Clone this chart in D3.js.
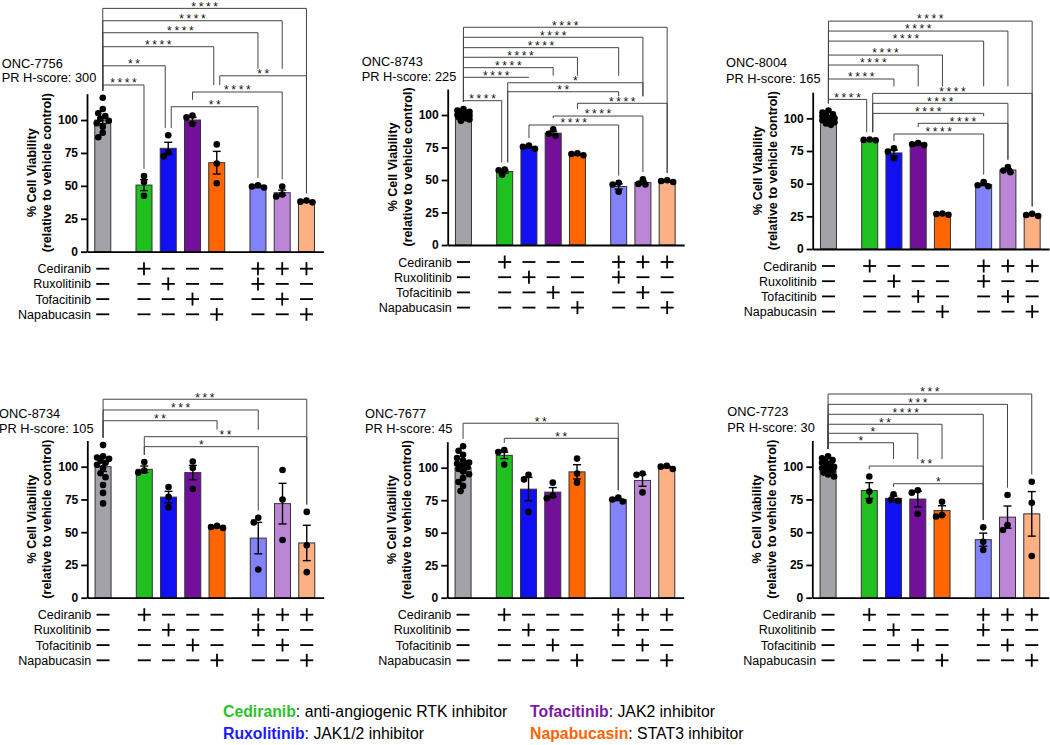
<!DOCTYPE html>
<html><head><meta charset="utf-8">
<script src="https://cdn.jsdelivr.net/npm/d3@7"></script>
<style>
body{margin:0;background:#fff}
svg{font-family:"Liberation Sans",Arial,Helvetica,sans-serif}
</style></head>
<body>
<svg id="c" width="1050" height="745"></svg>
<script>
// ---------------- DATA ----------------
const treatments = ["Cediranib", "Ruxolitinib", "Tofacitinib", "Napabucasin"];
// which treatment is present (+) for each of the 8 columns
const combos = [
  [0,0,0,0],[1,0,0,0],[0,1,0,0],[0,0,1,0],[0,0,0,1],[1,1,0,0],[1,0,1,0],[1,0,0,1]
];
const barColors = ["#a2a2a8","#20c020","#1010f2","#72109a","#ff6600","#8282fa","#bc86d6","#fdb083"];
const panelNames = ["ONC-7756","ONC-8743","ONC-8004","ONC-8734","ONC-7677","ONC-7723"];
const hScores = [300, 225, 165, 105, 45, 30];
const yTicks = [0, 25, 50, 75, 100];

// mean % viability per column
const means = [
  [100, 50.6, 78.5, 100, 67.6, 49.5, 44.8, 38],
  [100, 56.5, 75, 86, 69.8, 45, 48, 49],
  [100, 83.4, 73.5, 80.3, 26.7, 49.3, 60.5, 26],
  [100, 98, 76.8, 95.5, 53.8, 45.5, 71.8, 41.8],
  [100, 109.5, 83.5, 81.2, 96.8, 75.5, 90.2, 100.5],
  [100, 81.8, 75.8, 75.3, 66.5, 44.3, 61.5, 64]
];
// SEM per column
const sems = [
  [2.8, 4.2, 4.6, 2, 8.6, 0.8, 2, 0.5],
  [1, 1.2, 0.6, 1.5, 0.5, 2, 1.2, 0.4],
  [1, 0.3, 2.2, 0.5, 0.3, 0.8, 1, 0.4],
  [3.6, 2.5, 4.4, 5.5, 0.4, 12, 15.5, 13.5],
  [2.5, 2.5, 9, 3.5, 5.5, 0.8, 4.5, 0.6],
  [1, 6, 1.8, 6, 3.7, 5, 8.5, 17]
];
// individual replicate points
const dots = [
  [[116.9,108.4,105.1,103,101,99.5,97.5,94.9,90.4,86.9],[57.5,53,42.5],[88.5,75.5,72.5],[103.5,102,97],[81.5,67,52],[50.5,49.5,48.8],[49.5,43.5,42],[38.8,38,37.5]],
  [[104.5,103.5,102.5,101.5,101,100,99.5,99,98,97.5,96.5,95.5],[58,57.5,54],[76.5,75.5,74],[89,85.5,84],[70.5,70,69],[47.8,46.5,41],[50.5,47,46.5],[49.8,49.2,48.5]],
  [[106,104.5,103,102,101.5,100.5,100,99.5,98.5,98,97,96,95],[83.8,83.5,83.2],[77,74.5,69.5],[81,80.2,79.5],[27.2,26.8,26.2],[51.3,48.8,48],[62.8,60,58.8],[27,26,25.3]],
  [[116.5,108,107,106,104.5,103,101.5,99,95,92,86,80,72],[103.5,97,95.5],[84.5,77,69],[104,99,83],[54.8,54,53.3],[61,57.5,21.5],[97.5,75,44],[65.5,40,19.5]],
  [[116.5,113,110,107.5,105.5,104,103,102,100.5,99,97,95,92,89,86,82],[113.5,112,102.5],[94.5,91,66],[88.5,78.5,76.5],[107,95.5,88.5],[77,75.5,74],[95.5,94.5,81],[101.5,100.8,99]],
  [[108,106.5,105,104,103,102,101,100,99,98,97,95.5,94,92.5],[92.5,81,74],[79,74.8,74],[82,80.2,64],[73.3,63,62],[53.7,42.7,36.4],[78.4,55.5,51.7],[88.5,72.5,31.8]]
];
// significance brackets: [from column, to column, stars, height in % units]
const brackets = [
  [[0,7,"****",184.8],[0,6,"****",175.4],[0,5,"****",166.3],[0,4,"****",155.7],[0,2,"**",141.2],[0,1,"****",126.6],[4,7,"**",133.6],[3,6,"****",121.3],[2,5,"**",110.1]],
  [[0,7,"****",167.5],[0,6,"****",159.8],[0,5,"****",151.8],[0,4,"****",144.4],[0,3,"****",136.4],[0,2,"****",129],[0,1,"****",111],[1,6,"*",124.8],[1,5,"**",117.9],[4,7,"****",109],[3,6,"****",99.2],[2,5,"****",92.3]],
  [[0,7,"****",174.4],[0,6,"****",166.8],[0,5,"****",159.1],[0,4,"****",148.4],[0,3,"****",140.8],[0,2,"****",130.1],[0,1,"****",114.5],[1,7,"****",119.1],[1,6,"****",111.5],[1,5,"****",103.8],[3,6,"****",96.2],[2,5,"****",88]],
  [[0,7,"***",151.5],[0,5,"***",143.3],[0,4,"**",135.1],[1,7,"**",122.9],[1,5,"*",115.3]],
  [[0,5,"**",134.2],[1,5,"**",122.6]],
  [[0,7,"***",155.5],[0,6,"***",147.6],[0,5,"****",140],[0,4,"**",132.4],[0,3,"*",125.5],[0,2,"*",118.3],[1,5,"**",100.5],[2,5,"*",87]]
];
const legendItems = [
  {name:"Cediranib", desc:": anti-angiogenic RTK inhibitor", color:"#2cc42c"},
  {name:"Ruxolitinib", desc:": JAK1/2 inhibitor", color:"#1a1aff"},
  {name:"Tofacitinib", desc:": JAK2 inhibitor", color:"#7a1aa2"},
  {name:"Napabucasin", desc:": STAT3 inhibitor", color:"#ff6400"}
];

// ---------------- LAYOUT ----------------
const layout = [
  {ax:87,    y0:251.7, h:158,   tx:1.7,   ty:67.9,  ty2:82.2},
  {ax:447.7, y0:245,   h:156,   tx:361.7, ty:66.3,  ty2:80.8},
  {ax:812.7, y0:249,   h:156.8, tx:726,   ty:66.5,  ty2:82.5},
  {ax:87.3,  y0:597.7, h:157.2, tx:-1,    ty:417.9, ty2:432.9},
  {ax:447.3, y0:597.7, h:156,   tx:365,   ty:417.9, ty2:432.9},
  {ax:812.3, y0:597.7, h:157.2, tx:727.3, ty:416.3, ty2:431.5}
];
const slot = 24.25, barW = 16, r = 3.3;
const colPos = i => i + (i === 0 ? 0 : (i <= 4 ? 0.7 : 1.4));

const svg = d3.select("#c");

function swarm(vals, cx, y) {
  const placed = [];
  const offs = [0, -2.5, 2.5, -4.5, 4.5, -6, 6];
  const sorted = vals.slice().sort((a, b) => b - a);
  sorted.forEach(v => {
    const py = y(v);
    let best = null, bestD = -1;
    for (const o of offs) {
      const px = cx + o;
      let md = Infinity;
      placed.forEach(p => { md = Math.min(md, Math.hypot(p[0] - px, p[1] - py)); });
      if (md >= 2 * r * 0.85) { best = px; bestD = md; break; }
      if (md > bestD) { bestD = md; best = px; }
    }
    placed.push([best, py]);
  });
  return placed;
}

layout.forEach((L, p) => {
  const g = svg.append("g");
  const x = d3.scaleLinear().domain([-0.65, 9.1]).range([L.ax, L.ax + 9.75 * slot]);
  const y = d3.scaleLinear().domain([0, 120]).range([L.y0, L.y0 - L.h]);
  const cx = i => x(colPos(i));

  // bars
  g.selectAll("rect.bar").data(means[p]).join("rect")
    .attr("x", (d, i) => cx(i) - barW / 2).attr("width", barW)
    .attr("y", d => y(d)).attr("height", d => y(0) - y(d))
    .attr("fill", (d, i) => barColors[i]).attr("stroke", "#333").attr("stroke-width", 1);

  // error bars
  means[p].forEach((m, i) => {
    const s = sems[p][i], c = cx(i);
    const eg = g.append("g").attr("stroke", "#000").attr("stroke-width", 1.4);
    eg.append("line").attr("x1", c).attr("x2", c).attr("y1", y(m - s)).attr("y2", y(m + s));
    eg.append("line").attr("x1", c - 4).attr("x2", c + 4).attr("y1", y(m - s)).attr("y2", y(m - s));
    eg.append("line").attr("x1", c - 4).attr("x2", c + 4).attr("y1", y(m + s)).attr("y2", y(m + s));
  });

  // dots
  dots[p].forEach((vals, i) => {
    const pts = swarm(vals, cx(i), y);
    g.selectAll(null).data(pts).join("circle")
      .attr("cx", d => d[0]).attr("cy", d => d[1]).attr("r", r).attr("fill", "#000");
  });

  // axes
  const yAxis = g.append("g").attr("transform", `translate(${L.ax},0)`)
    .call(d3.axisLeft(y).tickValues(yTicks).tickSize(6).tickPadding(3).tickSizeOuter(0));
  yAxis.selectAll("path,line").attr("stroke", "#000").attr("stroke-width", 1.8);
  yAxis.selectAll("text").attr("font-size", 12).attr("font-weight", "bold").attr("fill", "#000")
    .attr("font-family", "Liberation Sans, Arial, sans-serif");
  const xAxis = g.append("g").attr("transform", `translate(0,${L.y0})`)
    .call(d3.axisBottom(x).tickValues([]).tickSizeOuter(0));
  xAxis.select("path").attr("stroke", "#000").attr("stroke-width", 1.8);

  // y label
  const yc = (y(0) + y(120)) / 2;
  [["% Cell Viability", -51], ["(relative to vehicle control)", -36]].forEach(([t, dx]) => {
    g.append("text").attr("transform", `translate(${L.ax + dx},${yc}) rotate(-90)`)
      .attr("text-anchor", "middle").attr("font-size", 12.5).attr("font-weight", "bold").text(t);
  });

  // title
  g.append("text").attr("x", L.tx).attr("y", L.ty).attr("font-size", 12.8).text(panelNames[p]);
  g.append("text").attr("x", L.tx).attr("y", L.ty2).attr("font-size", 12.8).text("PR H-score: " + hScores[p]);

  // treatment rows
  treatments.forEach((t, k) => {
    const ry = L.y0 + 17 + 15.2 * k;
    g.append("text").attr("x", L.ax + 4).attr("y", ry + 4.5).attr("text-anchor", "end")
      .attr("font-size", 12.5).text(t);
    combos.forEach((cmb, i) => {
      const c = cx(i);
      g.append("line").attr("x1", c - 6.5).attr("x2", c + 6.5).attr("y1", ry).attr("y2", ry)
        .attr("stroke", "#000").attr("stroke-width", 1.8);
      if (cmb[k]) {
        g.append("line").attr("x1", c).attr("x2", c).attr("y1", ry - 6.5).attr("y2", ry + 6.5)
          .attr("stroke", "#000").attr("stroke-width", 1.8);
      }
    });
  });

  // brackets
  const B = brackets[p].map(b => ({from: b[0], to: b[1], stars: b[2], ly: y(b[3])}));
  const colTop = i => y(Math.max(d3.max(dots[p][i]), means[p][i] + sems[p][i])) - r;
  function legEnd(c, b) {
    const lower = B.filter(o => o !== b && o.ly > b.ly && o.from < c && c < o.to);
    if (lower.length) return Math.max(b.ly, d3.min(lower, o => o.ly) - 7);
    return colTop(c) - 4;
  }
  const legs = [];
  B.forEach(b => {
    b.l = {c: b.from, side: "out", y1: b.ly, y2: legEnd(b.from, b), off: 0};
    b.r = {c: b.to, side: "in", y1: b.ly, y2: legEnd(b.to, b), off: 0};
    legs.push(b.l, b.r);
  });
  d3.range(8).forEach(c => {
    const ins = legs.filter(l => l.c === c && l.side === "in");
    const outs = legs.filter(l => l.c === c && l.side === "out");
    const overlap = ins.some(a => outs.some(o => a.y1 < o.y2 && o.y1 < a.y2));
    if (overlap) { ins.forEach(l => l.off = -3); outs.forEach(l => l.off = 3); }
  });
  const bg = g.append("g").attr("stroke", "#444").attr("stroke-width", 1).attr("fill", "none");
  B.forEach(b => {
    const xl = cx(b.from) + b.l.off, xr = cx(b.to) + b.r.off;
    bg.append("path").attr("d", `M${xl},${b.l.y2}V${b.ly}H${xr}V${b.r.y2}`);
    g.append("text").attr("x", (xl + xr) / 2 + 1.3).attr("y", b.ly + 2.3)
      .attr("text-anchor", "middle").attr("font-size", 12).attr("letter-spacing", 2.6)
      .attr("fill", "#111").text(b.stars);
  });
});

// legend
const legPos = [[223, 717.4], [223, 738.5], [530, 717.4], [530, 738.5]];
legendItems.forEach((it, j) => {
  const t = svg.append("text").attr("x", legPos[j][0]).attr("y", legPos[j][1]).attr("font-size", 15.8);
  t.append("tspan").attr("font-weight", "bold").attr("fill", it.color).text(it.name);
  t.append("tspan").attr("fill", "#000").text(it.desc);
});
</script>
</body></html>
